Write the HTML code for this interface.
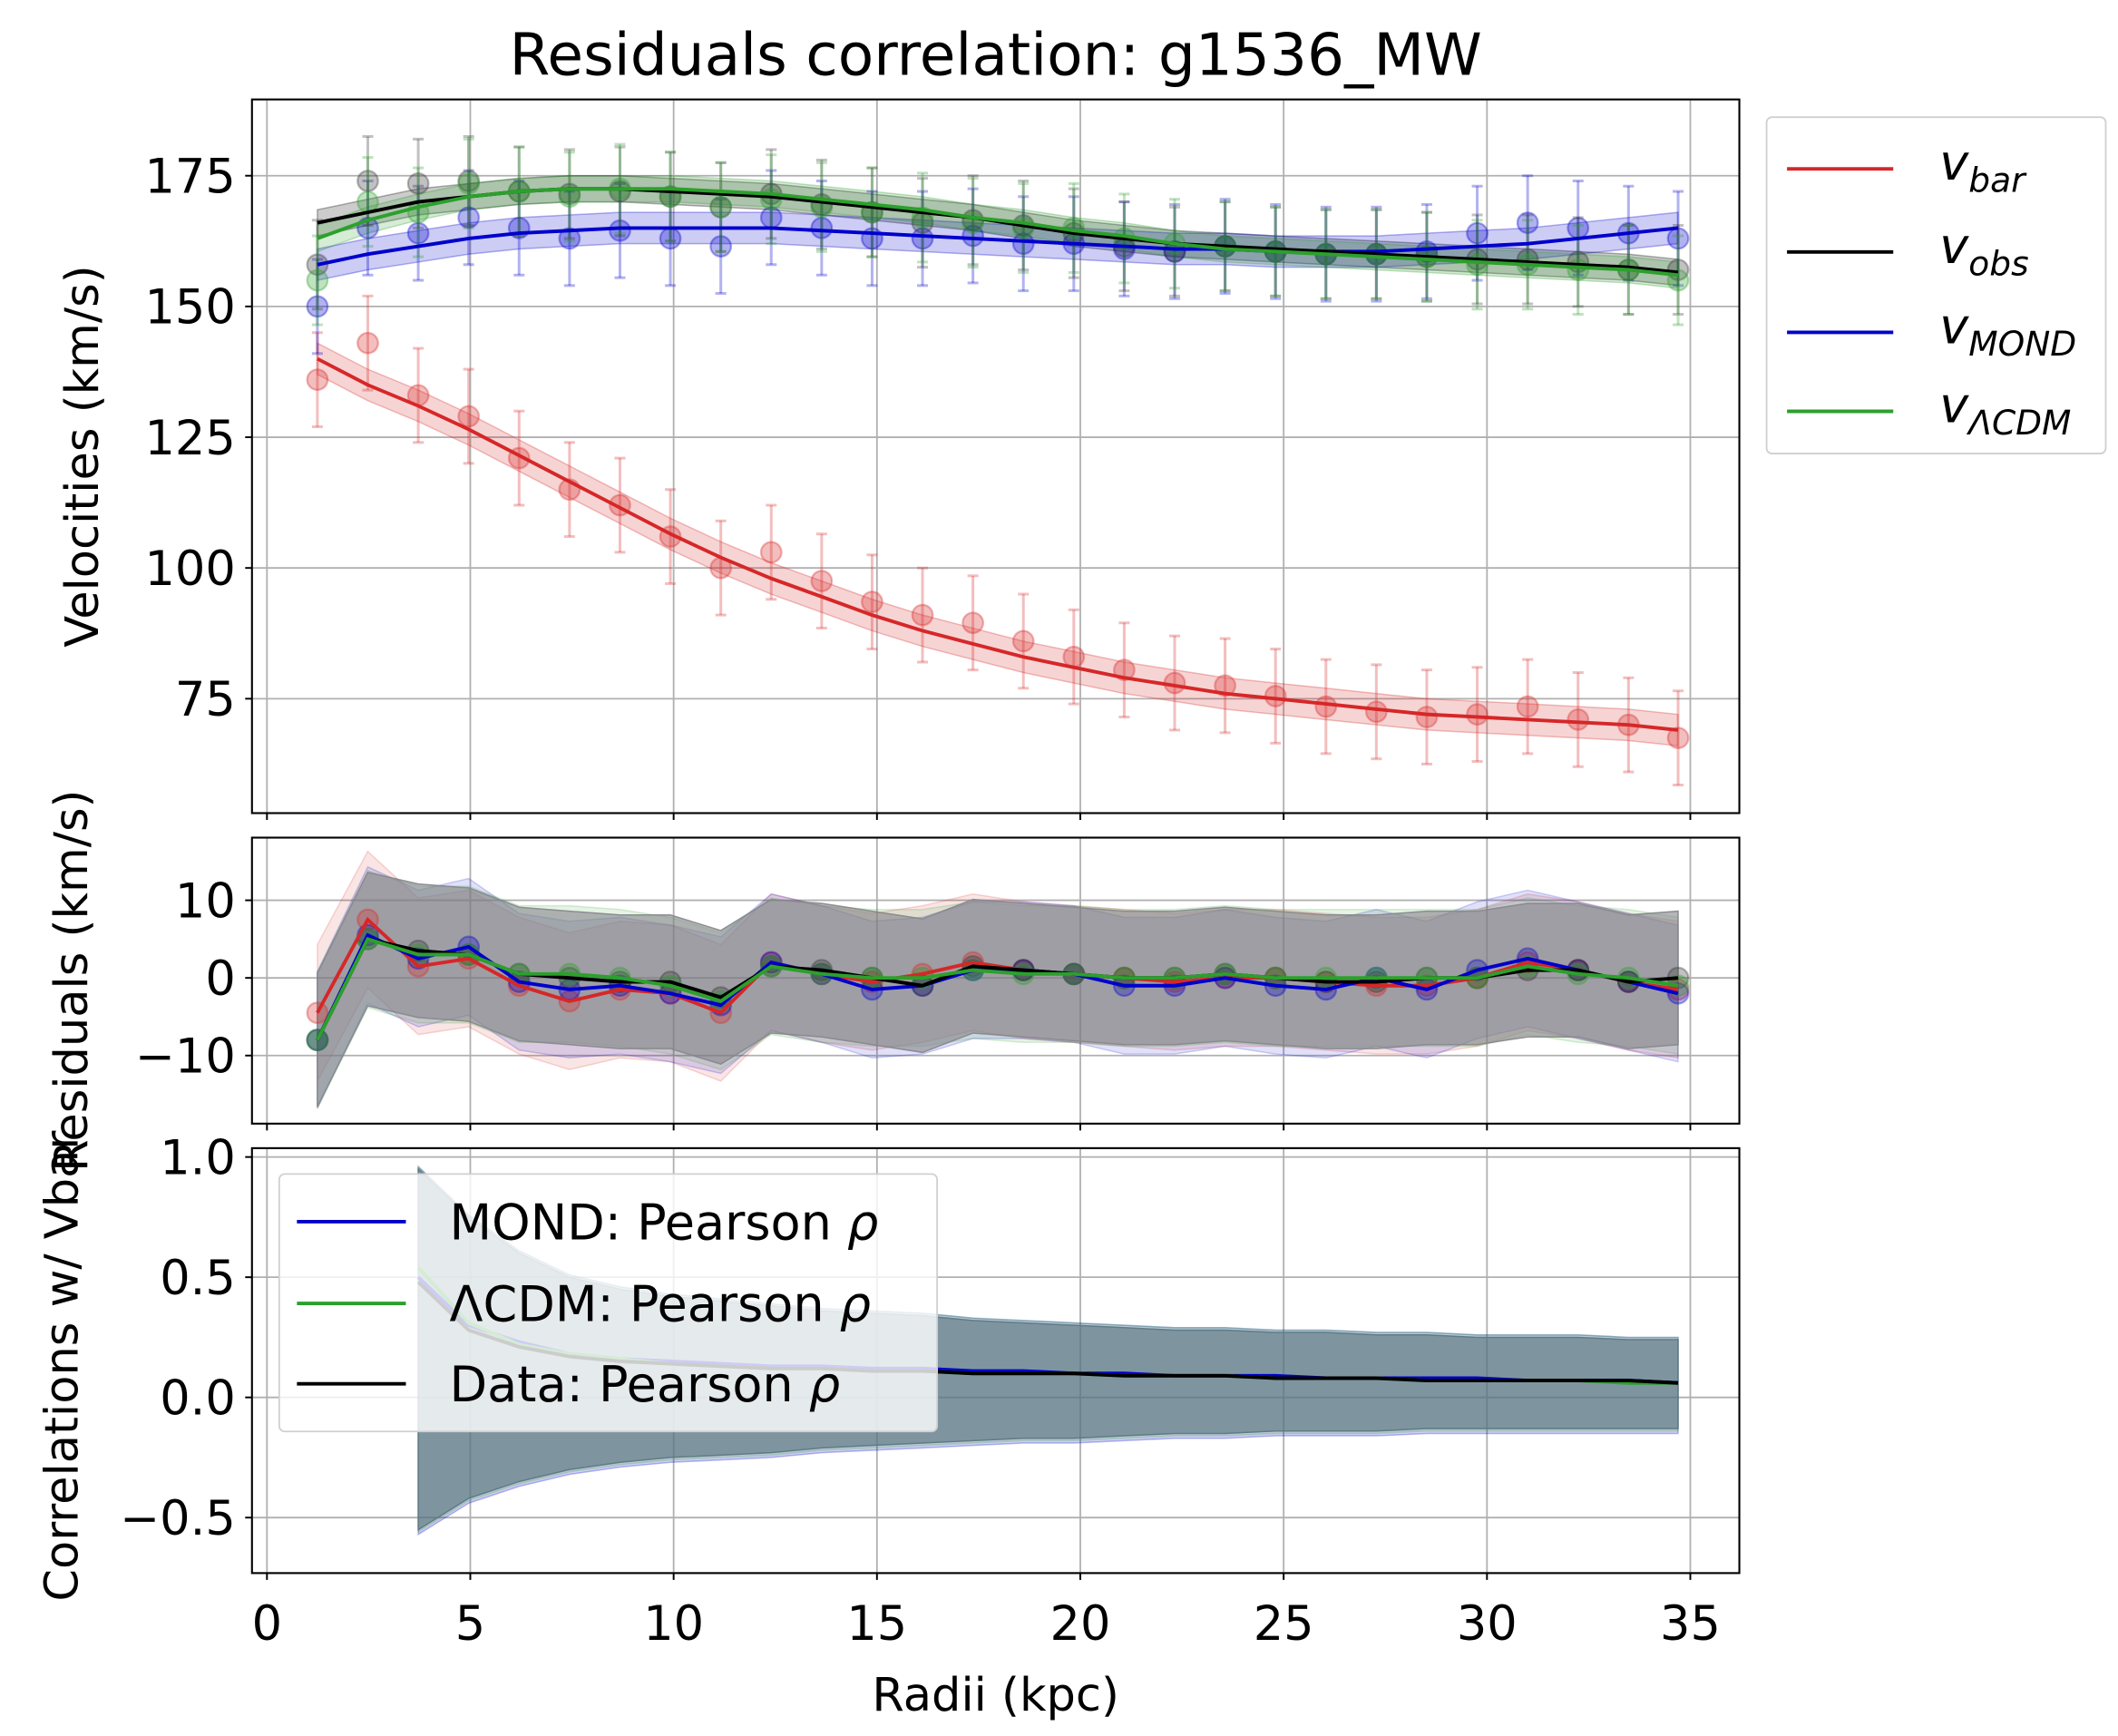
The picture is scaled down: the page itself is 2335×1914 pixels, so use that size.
<!DOCTYPE html>
<html><head><meta charset="utf-8">
<style>
html,body{margin:0;padding:0;background:#fff;}
svg{display:block;font-family:"DejaVu Sans","Liberation Sans",sans-serif;}
</style></head>
<body>
<svg id="fig" width="2335" height="1914" viewBox="0 0 1555 1274.6" xmlns="http://www.w3.org/2000/svg">
<rect width="1555" height="1275" fill="#fff"/>
<text x="731" y="55" font-size="43" text-anchor="middle">Residuals correlation: g1536_MW</text>
<g id="g"></g>
</svg>
<script>
const radii=[1.24,2.48,3.72,4.96,6.2,7.44,8.68,9.92,11.16,12.4,13.64,14.88,16.12,17.36,18.6,19.84,21.08,22.32,23.56,24.8,26.04,27.28,28.52,29.76,31,32.24,33.48,34.7];
const vbarPts=[136,143,133,129,121,115,112,106,100,103,97.5,93.5,91,89.5,86,83,80.5,78,77.5,75.5,73.5,72.5,71.5,72,73.5,71,70,67.5];
const vbarLine=[140,135,131,126.5,121.5,116.5,111.5,106.5,102,98,94.5,91,88,85.5,83,81,79,77.5,76,75,74,73,72,71.5,71,70.5,70,69];
const vobsPts=[158,174,173.5,174,172,171.5,172,171,169,171.5,169.5,168,166,166.5,165.5,164,161.5,160.5,161.5,160.5,160,160,159.5,159,159,158.5,157,157];
const vobsLine=[166,168,170,171,172,172.5,172.5,172,171.5,171,170,169,168,167,165.5,164,163,162,161.5,161,160.5,160,159.5,159,158.5,158,157.5,156.5];
const vmondPts=[150,165,164,167,165,163,164.5,163,161.5,167,165,163,163,163.5,162,162,161,160.5,161.5,160.5,160,160,160.5,164,166,165,164,163];
const vmondLine=[158,160,161.5,163,164,164.5,165,165,165,165,164.5,164,163.5,163,162.5,162,161.5,161,161,160.5,160.5,160.5,161,161.5,162,163,164,165];
const vlcdmPts=[155,170,168,173.5,172,171,172.5,171,169,170.5,169,168,167,166,165,165,163,162,161.5,160.5,160,160,159.5,158,158,157,157,155];
const vlcdmLine=[163,166.5,169,171,172,172.5,172.5,172.5,172,171.5,170.5,169.5,168.5,167,166,164.5,163.5,162,161,160.5,160,159.5,159,158.5,158,157.5,157,156];
const resBar=[-4.5,7.5,1.5,2.5,-1,-3,-1.5,-2,-4.5,2,0.5,-0.5,0.5,2,1,0.5,0,-0.5,0,0,-0.5,-1,-1,0,2,1,-0.5,-1.5];
const resObs=[-8,5,3.5,3,0.5,0,-0.5,-0.5,-2.5,1.5,1,0,-1,1.5,1,0.5,0,0,0.5,0,-0.5,-0.5,0,0,1,1,-0.5,0];
const resMond=[-8,5.5,2.5,4,-0.5,-1.5,-1,-2,-3.5,2,0.5,-1.5,-1,1,1,0.5,-1,-1,0,-1,-1.5,0,-1.5,1,2.5,1,-0.5,-2];
const resLcdm=[-8,5,3,3,0.5,0.5,0,-1,-3,1.5,0.5,0,0,1,0.5,0.5,0,0,0.5,0,0,0,0,0,1.5,0.5,0,-1];
const corrMond=[0.5,0.3,0.23,0.18,0.16,0.15,0.14,0.13,0.13,0.12,0.12,0.11,0.11,0.1,0.1,0.09,0.09,0.09,0.08,0.08,0.08,0.08,0.07,0.07,0.07,0.06];
const corrLcdm=[0.54,0.31,0.22,0.18,0.16,0.14,0.13,0.12,0.12,0.11,0.11,0.1,0.1,0.1,0.09,0.09,0.09,0.08,0.08,0.08,0.07,0.07,0.07,0.07,0.06,0.06];
const corrData=[0.48,0.28,0.21,0.17,0.15,0.14,0.13,0.12,0.12,0.11,0.11,0.1,0.1,0.1,0.09,0.09,0.09,0.08,0.08,0.08,0.07,0.07,0.07,0.07,0.07,0.06];
const corrUp=[0.95,0.75,0.6,0.5,0.45,0.42,0.4,0.38,0.36,0.35,0.34,0.32,0.31,0.3,0.29,0.28,0.28,0.27,0.27,0.26,0.26,0.25,0.25,0.25,0.24,0.24];
const corrLo=[-0.55,-0.42,-0.35,-0.3,-0.27,-0.25,-0.24,-0.23,-0.21,-0.2,-0.19,-0.18,-0.17,-0.17,-0.16,-0.15,-0.15,-0.14,-0.14,-0.14,-0.13,-0.13,-0.13,-0.13,-0.13,-0.13];
const xTicks=[0,5,10,15,20,25,30,35];
const topTicks=[75,100,125,150,175];
const midTicks=[-10,0,10];
const botTicks=[-0.5,0.0,0.5,1.0];

const NS='http://www.w3.org/2000/svg';
const G=document.getElementById('g');
function el(tag,attrs,parent,txt){const e=document.createElementNS(NS,tag);for(const k in attrs)e.setAttribute(k,attrs[k]);if(txt!==undefined)e.textContent=txt;(parent||G).appendChild(e);return e;}
const X=r=>196+r*(1045/35);
const L=185,R=1277;
const P1={t:73,b:597,y:v=>129+(175-v)*3.84};
const P2={t:615,b:825,y:v=>718-v*5.7};
const P3={t:843,b:1155,y:v=>1026-v*176.5};
const tickFont=35;

function grid(P,ticks,fmt,name){
  const g=el('g',{});
  
  xTicks.forEach(t=>{el('line',{x1:X(t),x2:X(t),y1:P.t,y2:P.b,stroke:'#b0b0b0','stroke-width':1.2},g);
    el('line',{x1:X(t),x2:X(t),y1:P.b,y2:P.b+5,stroke:'#000','stroke-width':1.3},g);});
  ticks.forEach(t=>{const y=P.y(t);el('line',{x1:L,x2:R,y1:y,y2:y,stroke:'#b0b0b0','stroke-width':1.2},g);
    el('line',{x1:L-5,x2:L,y1:y,y2:y,stroke:'#000','stroke-width':1.3},g);
    const tx=el('text',{x:L-12,y:y+12.5,'font-size':tickFont,'text-anchor':'end'},g,fmt(t));
    });
}
function frame(P,name){const r=el('rect',{x:L,y:P.t,width:R-L,height:P.b-P.t,fill:'none',stroke:'#000','stroke-width':1.4});
  }
function pathOf(xs,ys,P){return xs.map((x,i)=>(i?'L':'M')+X(x).toFixed(1)+','+P.y(ys[i]).toFixed(1)).join(' ');}
function band(xs,up,lo,P,fill,op,name){const d=pathOf(xs,up,P)+' '+xs.slice().reverse().map((x,i)=>'L'+X(x).toFixed(1)+','+P.y(lo[lo.length-1-i]).toFixed(1)).join(' ')+'Z';
  const p=el('path',{d:d,fill:fill,'fill-opacity':op,stroke:fill,'stroke-opacity':Math.min(1,op*1.5),'stroke-width':1});
  }
function line(xs,ys,P,col,w,name){const p=el('path',{d:pathOf(xs,ys,P),fill:'none',stroke:col,'stroke-width':w||2.3});
  }
function pts(xs,ys,P,col,err,name){const g=el('g',{});
  xs.forEach((x,i)=>{const cx=X(x),cy=P.y(ys[i]);
    if(err){el('line',{x1:cx,x2:cx,y1:P.y(ys[i]+err),y2:P.y(ys[i]-err),stroke:col,'stroke-opacity':0.3,'stroke-width':2},g);
      [err,-err].forEach(e=>el('line',{x1:cx-4,x2:cx+4,y1:P.y(ys[i]+e),y2:P.y(ys[i]+e),stroke:col,'stroke-opacity':0.3,'stroke-width':2},g));}
    const c=el('circle',{cx:cx,cy:cy,r:7.5,fill:col,'fill-opacity':0.3,stroke:col,'stroke-opacity':0.35,'stroke-width':1.5},g);
    });}

// ---- Top panel
grid(P1,topTicks,t=>String(t),'velocity');
const add=(a,d)=>a.map(v=>v+d);
band(radii,add(vbarLine,3),add(vbarLine,-3),P1,'#d62728',0.2,'vbar-band');
band(radii,add(vobsLine,2.5),add(vobsLine,-2.5),P1,'#000',0.2,'vobs-band');
band(radii,add(vmondLine,3),add(vmondLine,-3),P1,'#0000cc',0.2,'vmond-band');
band(radii,add(vlcdmLine,2.5),add(vlcdmLine,-2.5),P1,'#2ca02c',0.2,'vlcdm-band');
pts(radii,vbarPts,P1,'#d62728',9,'vbar-points');
pts(radii,vmondPts,P1,'#0000cc',9,'vmond-points');
pts(radii,vobsPts,P1,'#333',8.5,'vobs-points');
pts(radii,vlcdmPts,P1,'#2ca02c',8.5,'vlcdm-points');
line(radii,vbarLine,P1,'#d62728',2.6,'vbar-line');
line(radii,vmondLine,P1,'#0000cc',2.6,'vmond-line');
line(radii,vobsLine,P1,'#000',2.6,'vobs-line');
line(radii,vlcdmLine,P1,'#2ca02c',2.6,'vlcdm-line');
frame(P1,'velocity');

// ---- Middle panel
grid(P2,midTicks,t=>t<0?'\u2212'+(-t):String(t),'residuals');
[[resBar,'#d62728'],[resMond,'#0000cc'],[resLcdm,'#2ca02c']].forEach(([s,c],k)=>band(radii,add(s,8.8),add(s,-8.8),P2,c,0.12,'residual-band-'+k));
band(radii,add(resObs,8.6),add(resObs,-8.6),P2,'#85868b',0.6,'residual-band-obs');
pts(radii,resBar,P2,'#d62728',0,'resbar-points');
pts(radii,resMond,P2,'#0000cc',0,'resmond-points');
pts(radii,resObs,P2,'#333',0,'resobs-points');
pts(radii,resLcdm,P2,'#2ca02c',0,'reslcdm-points');
line(radii,resBar,P2,'#d62728',2.6,'resbar-line');
line(radii,resMond,P2,'#0000cc',2.6,'resmond-line');
line(radii,resObs,P2,'#000',2.6,'resobs-line');
line(radii,resLcdm,P2,'#2ca02c',2.6,'reslcdm-line');
frame(P2,'residuals');

// ---- Bottom panel
grid(P3,botTicks,t=>t<0?'\u2212'+(-t).toFixed(1):t.toFixed(1),'correlation');
const cr=radii.slice(2);
band(cr,add(corrUp,0.01),add(corrLo,-0.02),P3,'#0000cc',0.18,'corr-band-mond');
band(cr,add(corrUp,0.01),add(corrLo,-0.01),P3,'#2ca02c',0.15,'corr-band-lcdm');
band(cr,corrUp,corrLo,P3,'#5f7a82',0.65,'corr-band-data');
line(cr,corrMond,P3,'#0000cc',2.6,'corr-mond-line');
line(cr,corrLcdm,P3,'#2ca02c',2.6,'corr-lcdm-line');
line(cr,corrData,P3,'#000',2.6,'corr-data-line');
frame(P3,'correlation');

// x tick labels
xTicks.forEach(t=>{const tx=el('text',{x:X(t),y:1204,'font-size':tickFont,'text-anchor':'middle'},G,String(t));
  });
let a=el('text',{x:731,y:1256,'font-size':34,'text-anchor':'middle'},G,'Radii (kpc)');

a=el('text',{x:0,y:0,'font-size':34,'text-anchor':'middle',transform:'translate(72,335) rotate(-90)'},G,'Velocities (km/s)');

a=el('text',{x:0,y:0,'font-size':34,'text-anchor':'middle',transform:'translate(64,720) rotate(-90)'},G,'Residuals (km/s)');

a=el('text',{x:0,y:0,'font-size':34,'text-anchor':'middle',transform:'translate(57,1003) rotate(-90)'},G,'Correlations w/ Vbar');


// top legend
const lg=el('g',{});
el('rect',{x:1297,y:86,width:249,height:247,rx:4,fill:'#fff','fill-opacity':0.85,stroke:'#d0d0d0','stroke-width':1.2},lg);
[['#d62728','bar',124],['#000','obs',185],['#0000cc','MOND',244],['#2ca02c','\u039BCDM',302]].forEach(([c,s,y])=>{
  el('line',{x1:1312,x2:1390,y1:y,y2:y,stroke:c,'stroke-width':2.6},lg);
  const t=el('text',{x:1424,y:y+8,'font-size':36,'font-style':'italic'},lg);
  
  el('tspan',{},t,'v');el('tspan',{dy:9,'font-size':25},t,s);});

// bottom legend
const lb=el('g',{});
el('rect',{x:205,y:862,width:483,height:189,rx:4,fill:'#fff','fill-opacity':0.8,stroke:'#d0d0d0','stroke-width':1.2},lb);
[['#0000cc','MOND: Pearson ',897],['#2ca02c','\u039BCDM: Pearson ',957],['#000','Data: Pearson ',1016]].forEach(([c,s,y])=>{
  el('line',{x1:218,x2:298,y1:y,y2:y,stroke:c,'stroke-width':2.6},lb);
  const t=el('text',{x:330,y:y+13,'font-size':36},lb,s);
  
  el('tspan',{'font-style':'italic'},t,'\u03C1');});
</script>
</body></html>
